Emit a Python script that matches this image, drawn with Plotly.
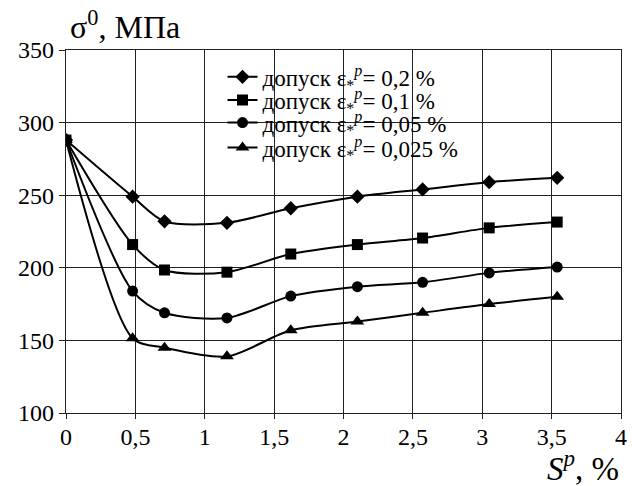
import plotly.graph_objects as go

strain = [0, 0.48, 0.71, 1.16, 1.62, 2.1, 2.57, 3.05, 3.54]
tol_02 = [288, 249, 232, 231, 241, 249, 254, 259, 262]
tol_01 = [288, 216, 198.5, 197, 209.5, 216, 220.5, 227.5, 231.5]
tol_005 = [288, 184, 169, 165.5, 180.5, 187, 190, 196.5, 200.5]
tol_0025 = [288, 151.5, 145, 139, 157, 163, 169, 175, 180]

x_ticks = [0, 0.5, 1, 1.5, 2, 2.5, 3, 3.5, 4]
x_tick_labels = ["0", "0,5", "1", "1,5", "2", "2,5", "3", "3,5", "4"]
y_ticks = [100, 150, 200, 250, 300, 350]
y_tick_labels = ["100", "150", "200", "250", "300", "350"]

FONT = "Liberation Serif"

def lab(v):
    return "допуск ε<sub>*</sub><sup><i>p</i></sup>= " + v + " %"

# (values, tolerance label, symbol, size, legend id, legend row centre in paper y)
series = [
    (tol_0025, "0,025", "triangle-up", 12, "legend4", 0.731),
    (tol_005, "0,05", "circle", 11, "legend3", 0.80),
    (tol_02, "0,2", "diamond", 11, "legend", 0.926),
    (tol_01, "0,1", "square", 11, "legend2", 0.862),
]

fig = go.Figure()
legends = {}
for ys, v, sym, sz, lg, ly in series:
    fig.add_trace(go.Scatter(
        x=strain, y=ys, mode="lines+markers", name=lab(v),
        line=dict(color="black", width=2, shape="spline", smoothing=0.8),
        marker=dict(symbol=sym, size=sz, color="black"),
        legend=lg,
    ))
    legends[lg] = dict(x=0.282, y=ly, xanchor="left", yanchor="middle",
                       bgcolor="rgba(0,0,0,0)", font=dict(size=23, family=FONT),
                       itemwidth=30)

# white box behind legend covering grid
fig.add_shape(type="rect", xref="x", yref="y", x0=0.67, x1=2.94, y0=265, y1=345,
              fillcolor="white", line=dict(width=0), layer="below")

fig.update_layout(
    width=632, height=486,
    margin=dict(l=66, r=5, t=50, b=73),
    paper_bgcolor="white", plot_bgcolor="white",
    font=dict(family=FONT, size=22, color="black"),
    showlegend=True,
    annotations=[
        dict(text="σ<sup>0</sup>, МПа", x=0.003, y=1.07, xref="paper", yref="paper",
             xanchor="left", yanchor="middle", showarrow=False,
             font=dict(size=32, family=FONT)),
        dict(text="<i>S<sup>p</sup></i>, %", x=1.0, y=-0.145, xref="paper", yref="paper",
             xanchor="right", yanchor="middle", showarrow=False,
             font=dict(size=33, family=FONT)),
    ],
    **legends,
)
fig.update_xaxes(range=[0, 4], tickvals=x_ticks, ticktext=x_tick_labels,
                 showgrid=True, gridcolor="#222", gridwidth=1.3,
                 showline=True, linecolor="#222", linewidth=1.3, mirror=True,
                 ticks="outside", ticklen=5, tickcolor="#222", zeroline=False,
                 ticklabeloverflow="allow", ticklabelstandoff=-3,
                 tickfont=dict(size=24))
fig.update_yaxes(range=[100, 350], tickvals=y_ticks, ticktext=y_tick_labels,
                 showgrid=True, gridcolor="#222", gridwidth=1.3,
                 showline=True, linecolor="#222", linewidth=1.3, mirror=True,
                 ticks="outside", ticklen=6, tickcolor="#222", zeroline=False,
                 tickfont=dict(size=24))

fig.write_html("out.html", post_script="document.body.style.margin='0px';",
               config={"displayModeBar": False})
